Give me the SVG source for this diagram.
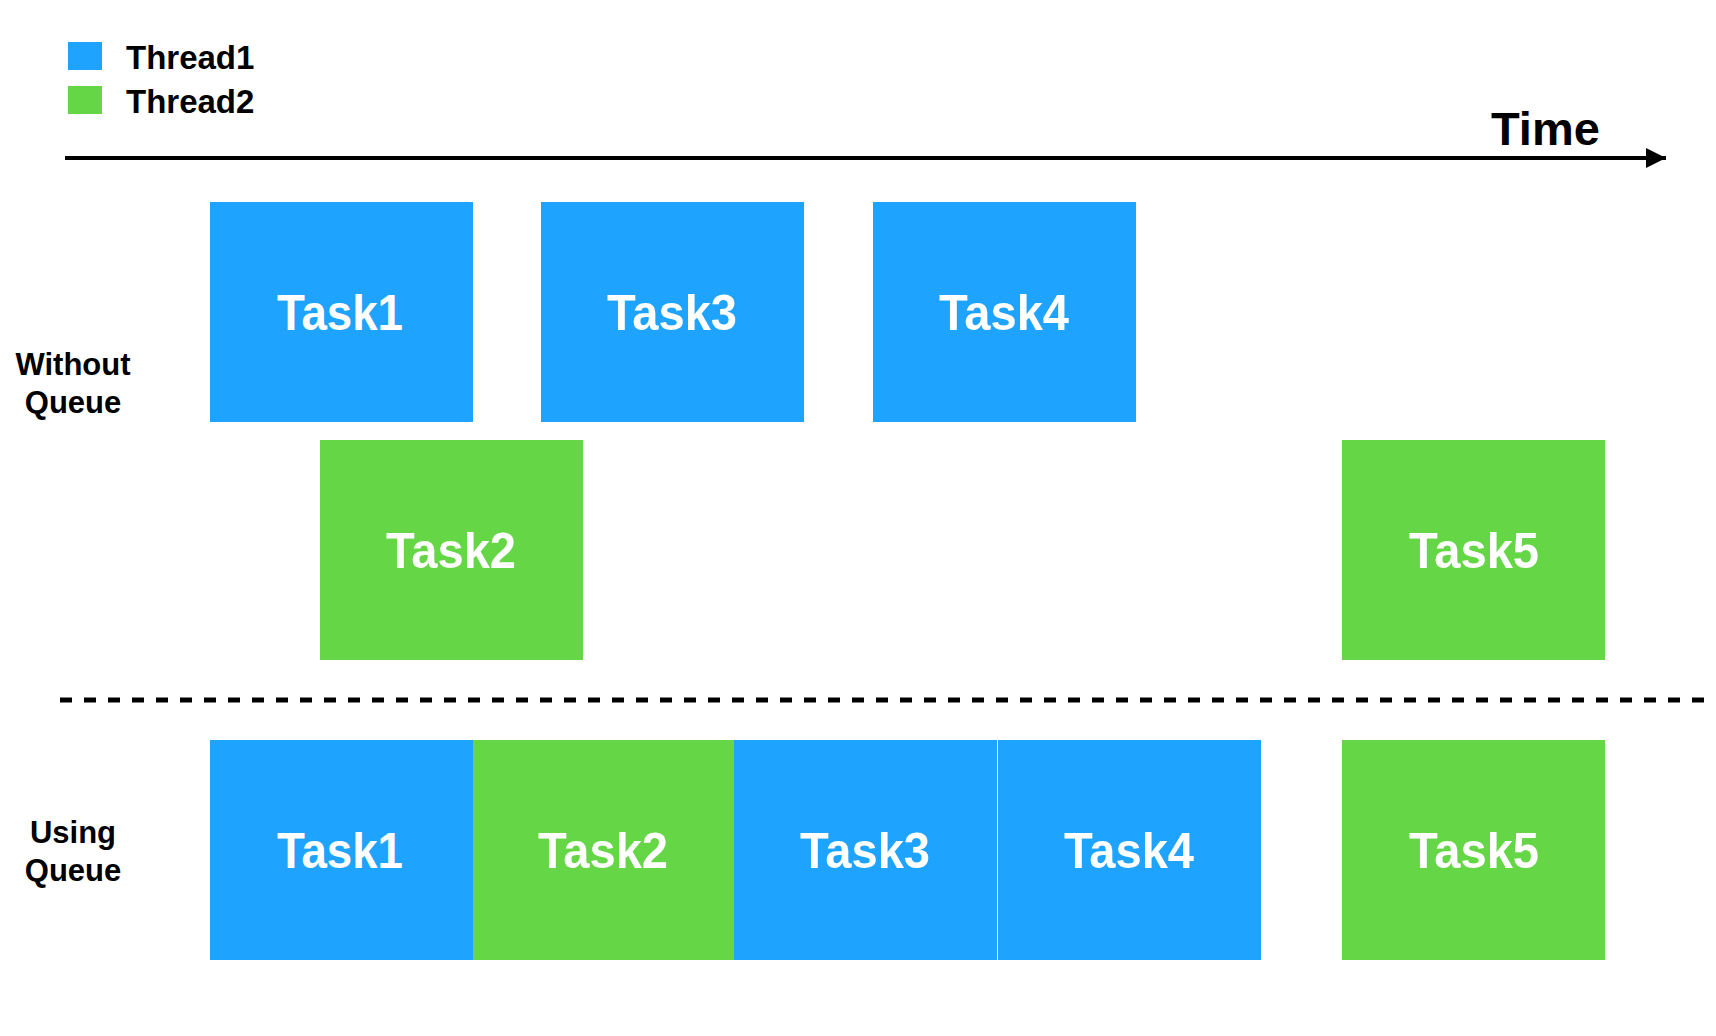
<svg xmlns="http://www.w3.org/2000/svg" width="1716" height="1036" viewBox="0 0 1716 1036">
<style>
.t1{fill:#1EA4FE}
.t2{fill:#65D645}
.lbl{font-family:"Liberation Sans",Arial,sans-serif;font-weight:bold;fill:#000}
.task{font-family:"Liberation Sans",Arial,sans-serif;font-weight:bold;font-size:50px;fill:#fff;text-anchor:middle}
</style>
<defs>
<marker id="arr" markerUnits="userSpaceOnUse" markerWidth="22" markerHeight="22" refX="20" refY="10" orient="auto" viewBox="0 0 22 20">
<path d="M0,0 L20,10 L0,20 Z" fill="#000"/>
</marker>
</defs>
<rect width="1716" height="1036" fill="#fff"/>
<g id="legend">
<rect class="t1" x="68" y="42" width="34" height="28"/>
<rect class="t2" x="68" y="86" width="34" height="28"/>
<text class="lbl" x="126" y="69" font-size="33">Thread1</text>
<text class="lbl" x="126" y="113" font-size="33">Thread2</text>
</g>
<g id="connectors">
<line x1="65" y1="158" x2="1666" y2="158" stroke="#000" stroke-width="4" marker-end="url(#arr)"/>
<line x1="60" y1="700" x2="1716" y2="700" stroke="#000" stroke-width="5" stroke-dasharray="12 12"/>
</g>
<text class="lbl" x="1491" y="145" font-size="47">Time</text>
<g id="label-without">
<text class="lbl" x="73" y="375" font-size="31" text-anchor="middle">Without</text>
<text class="lbl" x="73" y="413" font-size="31" text-anchor="middle">Queue</text>
</g>
<g id="label-using">
<text class="lbl" x="73" y="843" font-size="31" text-anchor="middle">Using</text>
<text class="lbl" x="73" y="881" font-size="31" text-anchor="middle">Queue</text>
</g>
<g id="wq-task1"><rect class="t1" x="210" y="202" width="263" height="220"/><text class="task" x="340" y="330" textLength="126" lengthAdjust="spacingAndGlyphs">Task1</text></g>
<g id="wq-task3"><rect class="t1" x="541" y="202" width="263" height="220"/><text class="task" x="672" y="330" textLength="130" lengthAdjust="spacingAndGlyphs">Task3</text></g>
<g id="wq-task4"><rect class="t1" x="873" y="202" width="263" height="220"/><text class="task" x="1004" y="330" textLength="130" lengthAdjust="spacingAndGlyphs">Task4</text></g>
<g id="wq-task2"><rect class="t2" x="320" y="440" width="263" height="220"/><text class="task" x="451" y="568" textLength="130" lengthAdjust="spacingAndGlyphs">Task2</text></g>
<g id="wq-task5"><rect class="t2" x="1342" y="440" width="263" height="220"/><text class="task" x="1474" y="568" textLength="130" lengthAdjust="spacingAndGlyphs">Task5</text></g>
<g id="uq-task1"><rect class="t1" x="210" y="740" width="263" height="220"/><text class="task" x="340" y="868" textLength="126" lengthAdjust="spacingAndGlyphs">Task1</text></g>
<g id="uq-task2"><rect class="t2" x="473" y="740" width="261" height="220"/><text class="task" x="603" y="868" textLength="130" lengthAdjust="spacingAndGlyphs">Task2</text></g>
<g id="uq-task3"><rect class="t1" x="734" y="740" width="263" height="220"/><text class="task" x="865" y="868" textLength="130" lengthAdjust="spacingAndGlyphs">Task3</text></g>
<g id="uq-task4"><rect class="t1" x="998" y="740" width="263" height="220"/><text class="task" x="1129" y="868" textLength="130" lengthAdjust="spacingAndGlyphs">Task4</text></g>
<g id="uq-task5"><rect class="t2" x="1342" y="740" width="263" height="220"/><text class="task" x="1474" y="868" textLength="130" lengthAdjust="spacingAndGlyphs">Task5</text></g>
</svg>
